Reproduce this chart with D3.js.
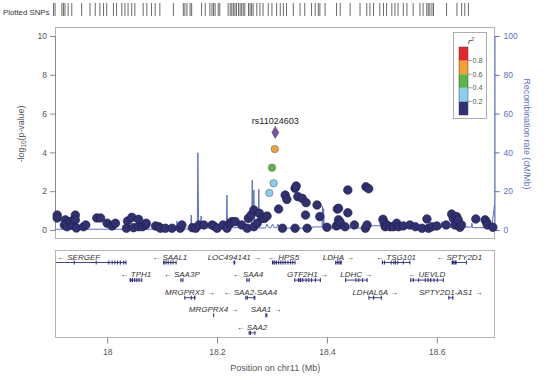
<!DOCTYPE html>
<html><head><meta charset="utf-8">
<script src="https://cdn.jsdelivr.net/npm/d3@7"></script>
<style>body{margin:0;background:#fff}svg{display:block}text{font-family:"Liberation Sans",Arial,sans-serif}</style>
</head><body><svg id="c" width="550" height="385"></svg>
<script>
// ---------- data ----------
const xDomain = [17.905, 18.705];
const xTicks = [18, 18.2, 18.4, 18.6];
const yTicks = [0, 2, 4, 6, 8, 10];
const recombTicks = [0, 20, 40, 60, 80, 100];

const snpPos = [17.909,17.909,17.924,17.922,17.927,17.933,17.936,17.939,17.942,17.942,17.944,17.957,17.961,17.981,17.988,18.000,18.009,18.015,18.035,18.037,18.045,18.048,18.057,18.057,18.064,18.070,18.071,18.088,18.094,18.097,18.106,18.118,18.133,18.136,18.155,18.161,18.167,18.176,18.191,18.194,18.200,18.211,18.218,18.224,18.227,18.233,18.245,18.255,18.257,18.262,18.267,18.267,18.273,18.277,18.282,18.286,18.291,18.312,18.319,18.324,18.327,18.342,18.344,18.347,18.355,18.362,18.342,18.364,18.361,18.382,18.387,18.400,18.417,18.421,18.419,18.421,18.421,18.424,18.433,18.438,18.438,18.450,18.470,18.473,18.471,18.476,18.502,18.504,18.506,18.509,18.515,18.521,18.527,18.530,18.539,18.551,18.561,18.573,18.582,18.585,18.591,18.600,18.617,18.627,18.630,18.633,18.636,18.639,18.642,18.645,18.671,18.688,18.691,18.692,18.702];
const snpLogP = [0.77,0.62,0.52,0.26,0.17,0.43,0.26,0.52,0.77,0.52,0.10,0.17,0.26,0.62,0.62,0.35,0.21,0.35,0.09,0.46,0.65,0.12,0.17,0.55,0.17,0.26,0.35,0.21,0.17,0.09,0.09,0.09,0.09,0.26,0.12,0.09,0.26,0.26,0.26,0.21,0.09,0.26,0.09,0.35,0.43,0.43,0.26,0.09,0.60,0.77,1.03,0.17,0.35,0.86,0.60,0.60,0.72,1.08,0.09,1.80,1.58,2.15,2.27,1.72,1.63,1.41,0.09,0.09,0.77,1.29,0.69,0.14,0.21,0.26,1.08,1.12,0.52,0.41,0.17,2.06,0.89,0.26,0.09,0.26,2.23,2.13,0.55,0.38,0.17,0.26,0.17,0.17,0.35,0.17,0.21,0.26,0.17,0.09,0.57,0.09,0.17,0.21,0.26,0.82,0.60,0.26,0.69,0.52,0.14,0.26,0.57,0.52,0.38,0.26,0.14];

// SNPs in LD with the lead SNP (r2 classes)
const ldPos  = [18.295, 18.303, 18.300, 18.305];
const ldLogP = [1.91, 2.41, 3.21, 4.17];
const ldR2   = [0.3, 0.3, 0.5, 0.7];
const leadName = "rs11024603";
const leadPos = 18.306;
const leadLogP = 5.03;

const recombPos  = [17.905,18.120,18.126,18.127,18.128,18.152,18.153,18.154,18.164,18.165,18.1665,18.170,18.171,18.172,18.217,18.218,18.219,18.263,18.264,18.265,18.266,18.267,18.268,18.275,18.276,18.277,18.288,18.291,18.294,18.298,18.301,18.304,18.308,18.311,18.314,18.373,18.374,18.391,18.392,18.393,18.394,18.395,18.474,18.475,18.500,18.501,18.608,18.609,18.610,18.663,18.664,18.665,18.700,18.705];
const recombRate = [0.4,0.4,0.5,4.6,0.5,0.5,7.7,0.6,0.6,39.8,1.0,1.0,7.2,1.0,1.0,18,1.2,1.2,25.8,5,5,20.6,2,2,21,1.0,1.0,3.0,1.2,1.2,3.0,1.2,1.2,3.0,1.0,1.0,1.6,1.6,12.4,2,11,1.0,1.0,2.2,2.2,1.0,1.0,4.3,1.5,1.5,3.5,1.2,1.2,13];

const rugPos = [17.906,17.909,17.922,17.925,17.928,17.934,17.941,17.960,17.976,17.986,17.995,18.002,18.008,18.021,18.027,18.037,18.043,18.049,18.056,18.062,18.078,18.085,18.094,18.101,18.110,18.136,18.155,18.158,18.162,18.168,18.171,18.190,18.197,18.206,18.210,18.213,18.216,18.222,18.225,18.241,18.245,18.248,18.251,18.254,18.257,18.261,18.264,18.267,18.270,18.273,18.280,18.283,18.286,18.289,18.296,18.302,18.308,18.318,18.325,18.334,18.341,18.347,18.353,18.366,18.379,18.388,18.401,18.408,18.414,18.417,18.427,18.449,18.456,18.475,18.494,18.507,18.513,18.520,18.532,18.539,18.545,18.555,18.561,18.567,18.577,18.584,18.596,18.609,18.615,18.622,18.625,18.628,18.632,18.635,18.660,18.680,18.689,18.695,18.702];

const ldBreaks = [0.2, 0.4, 0.6, 0.8];
const ldColors = ["#2f3173", "#8dcdec", "#5cb548", "#f5a130", "#e5262b"];

const geneNames  = ["SERGEF","SAAL1","LOC494141","HPS5","LDHA","TSG101","SPTY2D1","TPH1","SAA3P","SAA4","GTF2H1","LDHC","UEVLD","MRGPRX3","SAA2-SAA4","LDHAL6A","SPTY2D1-AS1","MRGPRX4","SAA1","SAA2"];
const geneStart  = [17.850,18.1018,18.230,18.300,18.415,18.500,18.627,18.041,18.1333,18.2533,18.3405,18.433,18.5515,18.1405,18.2515,18.4756,18.621,18.1929,18.2878,18.2575];
const geneEnd    = [18.035,18.126,18.233,18.342,18.427,18.5515,18.6545,18.0636,18.138,18.2593,18.389,18.474,18.612,18.1605,18.2696,18.500,18.630,18.1947,18.2909,18.2696];
const geneStrand = ["-","-","+","-","+","-","-","-","-","-","+","+","-","+","-","+","+","+","+","-"];
const geneRow    = [0,0,0,0,0,0,0,1,1,1,1,1,1,2,2,2,2,3,3,4];
const geneExons  = [
  [[17.939,17.940],[17.979,17.980],[18.002,18.004],[18.008,18.010],[18.013,18.015],[18.018,18.020],[18.023,18.025],[18.029,18.031],[18.033,18.035]],
  [[18.1018,18.1045],[18.106,18.108],[18.110,18.112],[18.115,18.1165],[18.119,18.120],[18.1245,18.126]],
  [[18.230,18.233]],
  [[18.300,18.303],[18.304,18.306],[18.307,18.309],[18.311,18.313],[18.315,18.317],[18.319,18.321],[18.323,18.325],[18.328,18.330],[18.333,18.334],[18.337,18.338],[18.341,18.342]],
  [[18.415,18.417],[18.418,18.420],[18.421,18.423],[18.424,18.427]],
  [[18.500,18.502],[18.504,18.505],[18.516,18.517],[18.521,18.522],[18.524,18.525],[18.528,18.529],[18.538,18.539],[18.550,18.5515]],
  [[18.627,18.631],[18.632,18.636],[18.653,18.6545]],
  [[18.041,18.044],[18.045,18.047],[18.049,18.051],[18.053,18.055],[18.057,18.059],[18.062,18.0636]],
  [[18.1333,18.1345],[18.137,18.138]],
  [[18.2533,18.255],[18.2575,18.2593]],
  [[18.3405,18.342],[18.347,18.349],[18.350,18.353],[18.355,18.357],[18.361,18.363],[18.366,18.368],[18.371,18.373],[18.378,18.380],[18.387,18.389]],
  [[18.433,18.435],[18.452,18.453],[18.457,18.458],[18.464,18.465],[18.472,18.474]],
  [[18.5515,18.553],[18.556,18.558],[18.566,18.567],[18.578,18.579],[18.583,18.585],[18.588,18.590],[18.594,18.595],[18.600,18.601],[18.611,18.612]],
  [[18.1405,18.142],[18.152,18.154],[18.158,18.1605]],
  [[18.2515,18.253],[18.254,18.256],[18.2665,18.2696]],
  [[18.4756,18.4765],[18.484,18.486],[18.498,18.500]],
  [[18.621,18.623],[18.628,18.630]],
  [[18.1929,18.1947]],
  [[18.2878,18.2890],[18.2898,18.2909]],
  [[18.2575,18.259],[18.260,18.2615],[18.268,18.2696]]
];

// ---------- drawing ----------
const svg = d3.select("#c");
const L = 55, R = 494.5;
const mainTop = 27, mainBot = 238;
const geneTop = 250, geneBot = 337;
const blue = "#5b6fc4";
const grayText = "#555";

const x = d3.scaleLinear().domain(xDomain).range([L, R]);
const y = d3.scaleLinear().domain([0, 10]).range([230, 36]);
const yr = d3.scaleLinear().domain([0, 100]).range([230, 36]);
const xRug = d3.scaleLinear().domain(xDomain).range([53, 470]);
const ldColor = d3.scaleThreshold().domain(ldBreaks).range(ldColors);

// rug
svg.append("text").attr("x", 3).attr("y", 15).attr("font-size", 7.8).attr("fill", "#333").text("Plotted SNPs");
svg.append("g").selectAll("line").data(rugPos).join("line")
  .attr("x1", d => xRug(d)).attr("x2", d => xRug(d))
  .attr("y1", 3).attr("y2", 16).attr("stroke", "#444").attr("stroke-width", 0.8);

// frames
svg.append("rect").attr("x", L + 0.5).attr("y", mainTop + 0.5).attr("width", R - L - 0.5).attr("height", mainBot - mainTop)
  .attr("fill", "none").attr("stroke", "#b3b3b3").attr("stroke-width", 1);
svg.append("rect").attr("x", L + 0.5).attr("y", geneTop + 0.5).attr("width", R - L - 0.5).attr("height", geneBot - geneTop)
  .attr("fill", "none").attr("stroke", "#b3b3b3").attr("stroke-width", 1);

// left axis
const ga = svg.append("g").attr("transform", `translate(${L},0)`)
  .call(d3.axisLeft(y).tickValues(yTicks).tickSize(5).tickSizeOuter(0).tickPadding(3));
ga.selectAll("path,line").attr("stroke", "#888");
ga.selectAll("text").attr("font-size", 8.5).attr("fill", grayText).attr("font-family", "Liberation Sans, Arial, sans-serif");

const ylab = svg.append("text").attr("transform", "translate(24,134) rotate(-90)")
  .attr("text-anchor", "middle").attr("font-size", 8.8).attr("fill", grayText);
ylab.append("tspan").text("-log");
ylab.append("tspan").attr("font-size", 6.5).attr("dy", 2).text("10");
ylab.append("tspan").attr("dy", -2).text("(p-value)");

// right axis
const gr = svg.append("g").attr("transform", `translate(${R},0)`)
  .call(d3.axisRight(yr).tickValues(recombTicks).tickSize(5).tickSizeOuter(0).tickPadding(4));
gr.selectAll("path,line").attr("stroke", blue);
gr.selectAll("text").attr("font-size", 8.5).attr("fill", blue).attr("font-family", "Liberation Sans, Arial, sans-serif");
svg.append("text").attr("transform", "translate(524,134) rotate(90)")
  .attr("text-anchor", "middle").attr("font-size", 8.8).attr("fill", blue).text("Recombination rate (cM/Mb)");

// clip for main panel
svg.append("clipPath").attr("id", "mclip").append("rect").attr("x", L).attr("y", mainTop).attr("width", R - L + 1).attr("height", mainBot - mainTop);

// recombination line
const line = d3.line().x((d, i) => x(recombPos[i])).y(d => yr(d));
svg.append("path").datum(recombRate).attr("d", line).attr("fill", "none")
  .attr("stroke", blue).attr("stroke-width", 1).attr("clip-path", "url(#mclip)");

// SNP points
svg.append("g").selectAll("circle").data(snpPos).join("circle")
  .attr("cx", d => x(d)).attr("cy", (d, i) => y(snpLogP[i])).attr("r", 4.3)
  .attr("fill", ldColor(0.1)).attr("stroke", "#1d1d45").attr("stroke-width", 0.6);

svg.append("g").selectAll("circle").data(ldPos).join("circle")
  .attr("cx", d => x(d)).attr("cy", (d, i) => y(ldLogP[i])).attr("r", 3.7)
  .attr("fill", (d, i) => ldColor(ldR2[i])).attr("stroke", "#666").attr("stroke-width", 0.6);

// lead SNP diamond
svg.append("path").attr("d", d3.symbol().type(d3.symbolDiamond).size(42)())
  .attr("transform", `translate(${x(leadPos)},${y(leadLogP)})`)
  .attr("fill", "#7d4fae").attr("stroke", "#555").attr("stroke-width", 0.6);
svg.append("text").attr("x", x(leadPos)).attr("y", y(leadLogP) - 8).attr("text-anchor", "middle")
  .attr("font-size", 9).attr("fill", "#222").text(leadName);

// legend
const lg = svg.append("g");
lg.append("rect").attr("x", 453.5).attr("y", 32.5).attr("width", 33).attr("height", 86)
  .attr("fill", "#fff").attr("stroke", "#999").attr("stroke-width", 0.8);
const ly = d3.scaleLinear().domain([0, 1]).range([115, 47]);
const segs = [0, ...ldBreaks];
lg.selectAll("rect.seg").data(segs).join("rect").attr("class", "seg")
  .attr("x", 459).attr("width", 9)
  .attr("y", (d, i) => ly(i < 4 ? segs[i + 1] : 1)).attr("height", (d, i) => ly(d) - ly(i < 4 ? segs[i + 1] : 1))
  .attr("fill", (d, i) => ldColors[i]);
lg.append("rect").attr("x", 459).attr("y", 47).attr("width", 9).attr("height", 68).attr("fill", "none").attr("stroke", "#444").attr("stroke-width", 0.5);
lg.selectAll("line.tk").data(ldBreaks).join("line").attr("class", "tk")
  .attr("x1", 468).attr("x2", 471.5).attr("y1", d => ly(d)).attr("y2", d => ly(d)).attr("stroke", "#666").attr("stroke-width", 0.7);
lg.selectAll("text.tl").data(ldBreaks).join("text").attr("class", "tl")
  .attr("x", 472.5).attr("y", d => ly(d) + 2.6).attr("font-size", 7.2).attr("fill", grayText).text(d => d.toFixed(1));
const rt = lg.append("text").attr("x", 468).attr("y", 44).attr("font-size", 8).attr("fill", "#333").attr("font-style", "italic");
rt.append("tspan").text("r");
rt.append("tspan").attr("font-size", 6).attr("dy", -3.5).text("2");

// genes panel
svg.append("clipPath").attr("id", "gclip").append("rect").attr("x", L + 1).attr("y", geneTop).attr("width", R - L - 1).attr("height", geneBot - geneTop);
const gg = svg.append("g");
const gcol = "#2f2f80";
const rowY = r => 262.5 + r * 17.6;
geneNames.forEach((name, i) => {
  const yy = rowY(geneRow[i]);
  const g = gg.append("g");
  const bars = g.append("g").attr("clip-path", "url(#gclip)");
  bars.append("line").attr("x1", x(geneStart[i])).attr("x2", x(geneEnd[i]))
    .attr("y1", yy).attr("y2", yy).attr("stroke", gcol).attr("stroke-width", 0.9);
  bars.selectAll("rect").data(geneExons[i]).join("rect")
    .attr("x", d => x(d[0])).attr("width", d => Math.max(1, x(d[1]) - x(d[0])))
    .attr("y", yy - 2).attr("height", 4).attr("fill", gcol);
  const label = geneStrand[i] === "-" ? "\u2190 " + name : name + " \u2192";
  const t = g.append("text").attr("y", yy - 3).attr("text-anchor", "middle")
    .attr("font-size", 8).attr("font-style", "italic").attr("fill", "#333").text(label);
  const w = t.node().getComputedTextLength();
  let cx = x((geneStart[i] + geneEnd[i]) / 2);
  cx = Math.max(cx, L + w / 2 + 2);
  cx = Math.min(cx, R - w / 2 - 2);
  t.attr("x", cx);
});

// x axis
const gx = svg.append("g").attr("transform", `translate(0,${geneBot + 0.5})`)
  .call(d3.axisBottom(x).tickValues(xTicks).tickSize(6).tickSizeOuter(0).tickPadding(5).tickFormat(d3.format("")));
gx.select("path").remove();
gx.selectAll("line").attr("stroke", "#888");
gx.selectAll("text").attr("font-size", 8.5).attr("fill", grayText).attr("font-family", "Liberation Sans, Arial, sans-serif");
svg.append("text").attr("x", (L + R) / 2 + 0.5).attr("y", 371).attr("text-anchor", "middle")
  .attr("font-size", 9).attr("fill", grayText).text("Position on chr11 (Mb)");
</script></body></html>
